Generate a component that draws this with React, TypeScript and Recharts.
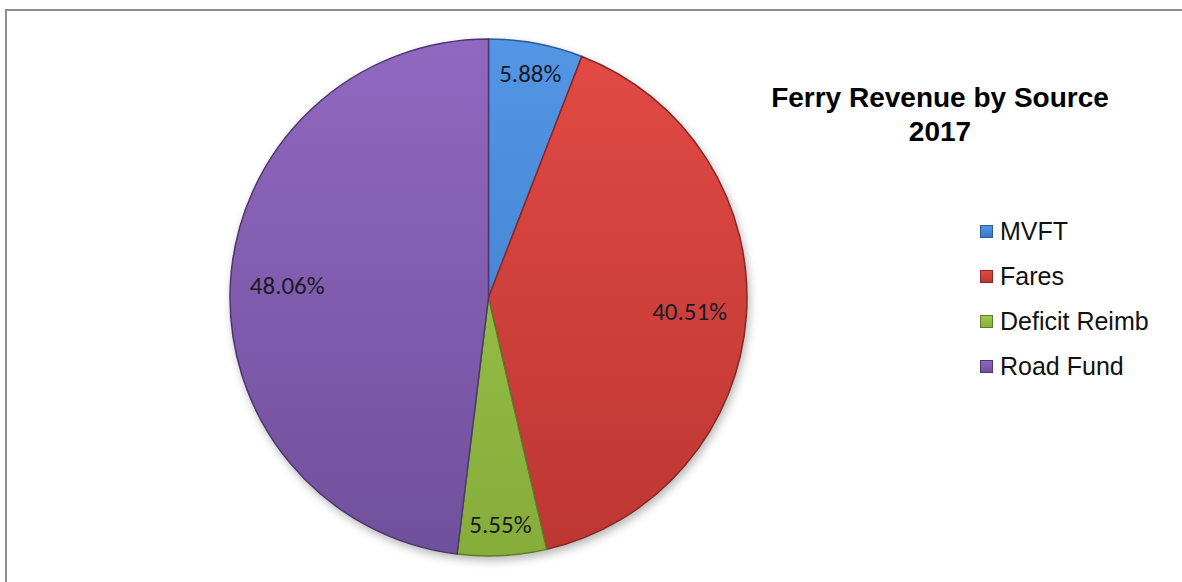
import React from 'react';
import { PieChart, Pie, Cell, Legend } from 'recharts';

const categories = ['MVFT', 'Fares', 'Deficit Reimb', 'Road Fund'];
const shares = [5.88, 40.51, 5.55, 48.06];
const titleLines = ['Ferry Revenue by Source', '2017'];

const palette = [
  { top: '#5396e4', bottom: '#3b78c8', edge: '#2b5b98' },
  { top: '#e24a45', bottom: '#bd3632', edge: '#8a2624' },
  { top: '#a0c84e', bottom: '#86ad3a', edge: '#5e7c26' },
  { top: '#9168c0', bottom: '#70509c', edge: '#4d366e' },
];

const data = categories.map((name, i) => ({ name, value: shares[i] }));

const CX = 488.5;
const CY = 297.5;
const R = 258.5;
const RAD = Math.PI / 180;

const renderLabel = (props: any) => {
  const { cx, cy, midAngle, outerRadius, percent } = props;
  const r = outerRadius * (percent < 0.1 ? 0.88 : 0.78);
  const x = cx + r * Math.cos(-midAngle * RAD);
  const y = cy + r * Math.sin(-midAngle * RAD);
  return (
    <text
      x={x}
      y={y}
      textAnchor="middle"
      dominantBaseline="central"
      fill="#1a1a26"
      style={{ fontFamily: 'Calibri, Carlito, "Open Sans", sans-serif', fontSize: 25 }}
    >
      {(percent * 100).toFixed(2)}%
    </text>
  );
};

const renderLegend = () => {
  return (
    <div style={{ fontFamily: '"Liberation Sans", Arial, sans-serif', fontSize: 25, color: '#111' }}>
      {categories.map((name, i) => {
        const c = palette[i];
        return (
          <div key={name} style={{ height: 45, lineHeight: '45px', display: 'flex', alignItems: 'center', whiteSpace: 'nowrap' }}>
            <span
              style={{
                display: 'inline-block',
                width: 11,
                height: 11,
                background: `linear-gradient(${c.top}, ${c.bottom})`,
                border: `1px solid ${c.edge}`,
                marginRight: 7,
              }}
            />
            <span>{name}</span>
          </div>
        );
      })}
    </div>
  );
};

export default function App() {
  return (
    <div style={{ position: 'absolute', left: 0, top: 0, width: 1182, height: 582, overflow: 'hidden', background: '#fff' }}>
      <style>{`.recharts-pie { filter: drop-shadow(2px 4px 4px rgba(0,0,0,0.28)); }`}</style>
      <div
        style={{
          position: 'absolute',
          left: 5,
          top: 9,
          width: 1300,
          height: 700,
          borderTop: '2px solid #8e8e8e',
          borderLeft: '2px solid #8e8e8e',
        }}
      />
      <div style={{ position: 'absolute', left: 0, top: 0 }}>
        <PieChart width={1182} height={582} margin={{ top: 0, right: 0, bottom: 0, left: 0 }}>
          <defs>
            {palette.map((c, i) => (
              <linearGradient key={i} id={`grad${i}`} gradientUnits="userSpaceOnUse" x1={0} y1={CY - R} x2={0} y2={CY + R}>
                <stop offset="0%" stopColor={c.top} />
                <stop offset="100%" stopColor={c.bottom} />
              </linearGradient>
            ))}
          </defs>
          <Pie
            data={data}
            dataKey="value"
            nameKey="name"
            cx={CX}
            cy={CY}
            outerRadius={R}
            startAngle={90}
            endAngle={-270}
            label={renderLabel}
            labelLine={false}
            isAnimationActive={false}
          >
            {data.map((d, i) => (
              <Cell key={d.name} fill={`url(#grad${i})`} stroke={palette[i].edge} strokeWidth={1.5} />
            ))}
          </Pie>
          <Legend
            content={renderLegend}
            layout="vertical"
            verticalAlign="middle"
            align="right"
            wrapperStyle={{ position: 'absolute', left: 980, top: 209, width: 200 }}
          />
        </PieChart>
      </div>
      <div
        style={{
          position: 'absolute',
          left: 740,
          top: 81,
          width: 400,
          textAlign: 'center',
          fontFamily: '"Liberation Sans", Arial, sans-serif',
          fontWeight: 'bold',
          fontSize: 28,
          lineHeight: '34px',
          color: '#000',
        }}
      >
        {titleLines.map((t) => (
          <div key={t}>{t}</div>
        ))}
      </div>
    </div>
  );
}
